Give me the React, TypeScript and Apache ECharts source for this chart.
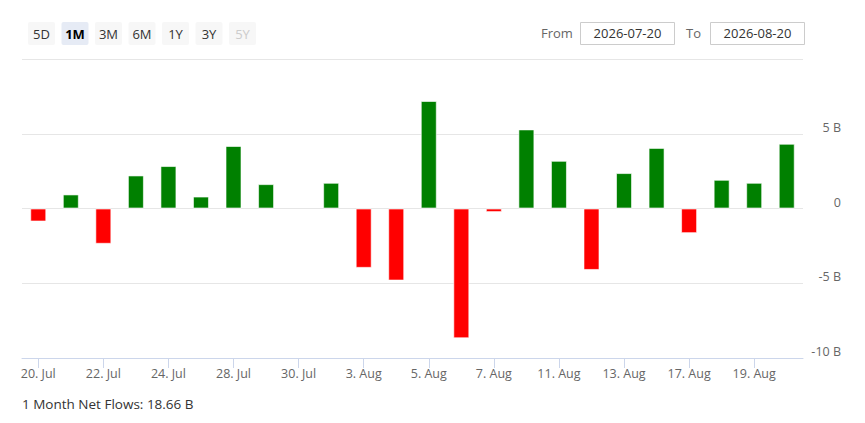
import React, { useEffect, useRef } from "react";
import * as echarts from "echarts";

const categories = [
  "20. Jul", "21. Jul", "22. Jul", "23. Jul", "24. Jul", "27. Jul", "28. Jul", "29. Jul",
  "30. Jul", "31. Jul", "3. Aug", "4. Aug", "5. Aug", "6. Aug", "7. Aug", "10. Aug",
  "11. Aug", "12. Aug", "13. Aug", "14. Aug", "17. Aug", "18. Aug", "19. Aug", "20. Aug",
];

const netFlows: (number | null)[] = [
  -0.87, 0.94, -2.36, 2.21, 2.84, 0.8, 4.18, 1.63,
  null, 1.72, -3.97, -4.82, 7.19, -8.68, -0.24, 5.29,
  3.19, -4.11, 2.37, 4.05, -1.65, 1.92, 1.72, 4.33,
];

const rangeButtons = ["5D", "1M", "3M", "6M", "1Y", "3Y", "5Y"];
const selectedRange = "1M";
const disabledRange = "5Y";
const fromDate = "2026-07-20";
const toDate = "2026-08-20";
const summaryText = "1 Month Net Flows: 18.66 B";

const FONT = "'Open Sans', 'DejaVu Sans', sans-serif";

export default function App() {
  const ref = useRef<HTMLDivElement>(null);

  useEffect(() => {
    if (!ref.current) return;
    const chart = echarts.init(ref.current, null, { renderer: "svg" });

    const buttons: any[] = [];
    rangeButtons.forEach((label, i) => {
      const x = 28 + i * 33.5;
      const selected = label === selectedRange;
      const disabled = label === disabledRange;
      buttons.push({
        type: "rect",
        shape: { x, y: 22, width: 27, height: 23, r: 2 },
        style: { fill: selected ? "#e6ebf5" : "#f7f7f7" },
      });
      buttons.push({
        type: "text",
        x: x + 13.5,
        y: 33.5,
        style: {
          text: label,
          fontFamily: FONT,
          fontSize: 13,
          fontWeight: selected ? "bold" : "normal",
          fill: disabled ? "#cccccc" : selected ? "#000000" : "#333333",
          align: "center",
          verticalAlign: "middle",
        },
      });
    });

    const dateBox = (label: string, lx: number, bx: number, value: string) => [
      {
        type: "text",
        x: lx,
        y: 33,
        style: { text: label, fontFamily: FONT, fontSize: 13, fill: "#666666", verticalAlign: "middle" },
      },
      {
        type: "rect",
        shape: { x: bx, y: 22.5, width: 94, height: 22 },
        style: { fill: "#ffffff", stroke: "#cccccc", lineWidth: 1 },
      },
      {
        type: "text",
        x: bx + 47,
        y: 33,
        style: {
          text: value,
          fontFamily: FONT,
          fontSize: 13,
          fill: "#333333",
          align: "center",
          verticalAlign: "middle",
        },
      },
    ];

    chart.setOption({
      animation: false,
      backgroundColor: "#ffffff",
      textStyle: { fontFamily: FONT },
      grid: { left: 22, right: 62, top: 59, bottom: 65, containLabel: false },
      xAxis: {
        type: "category",
        data: categories,
        boundaryGap: true,
        axisLine: { show: true, onZero: false, lineStyle: { color: "#ccd6eb", width: 1 } },
        axisTick: { show: true, interval: 1, alignWithLabel: true, length: 10, lineStyle: { color: "#ccd6eb" } },
        axisLabel: { interval: 1, color: "#666666", fontSize: 12.5, fontFamily: FONT, margin: 9 },
        splitLine: { show: false },
      },
      yAxis: {
        type: "value",
        position: "right",
        min: -10,
        max: 10,
        interval: 5,
        axisLine: { show: false },
        axisTick: { show: false },
        splitLine: { show: true, lineStyle: { color: "#e6e6e6", width: 1 } },
        axisLabel: {
          showMaxLabel: false,
          color: "#666666",
          fontSize: 12.5,
          fontFamily: FONT,
          align: "right",
          verticalAlign: "bottom",
          margin: 38,
          formatter: (v: number) => (v === 0 ? "0" : `${v} B`),
        },
      },
      series: [
        {
          type: "bar",
          barWidth: 16,
          data: netFlows.map((v) =>
            v === null
              ? "-"
              : {
                  value: v,
                  itemStyle: { color: v >= 0 ? "#008000" : "#ff0000" },
                }
          ),
          itemStyle: { borderColor: "rgba(255,255,255,0.6)", borderWidth: 1 },
        },
      ],
      graphic: {
        elements: [
          ...buttons,
          ...dateBox("From", 541, 580.5, fromDate),
          ...dateBox("To", 686, 710.5, toDate),
          {
            type: "text",
            x: 22,
            y: 404,
            style: {
              text: summaryText,
              fontFamily: FONT,
              fontSize: 13.5,
              fill: "#333333",
              verticalAlign: "middle",
            },
          },
        ],
      },
    });

    return () => chart.dispose();
  }, []);

  return (
    <div
      ref={ref}
      style={{ position: "fixed", left: 0, top: 0, width: 865, height: 423, background: "#fff" }}
    />
  );
}
